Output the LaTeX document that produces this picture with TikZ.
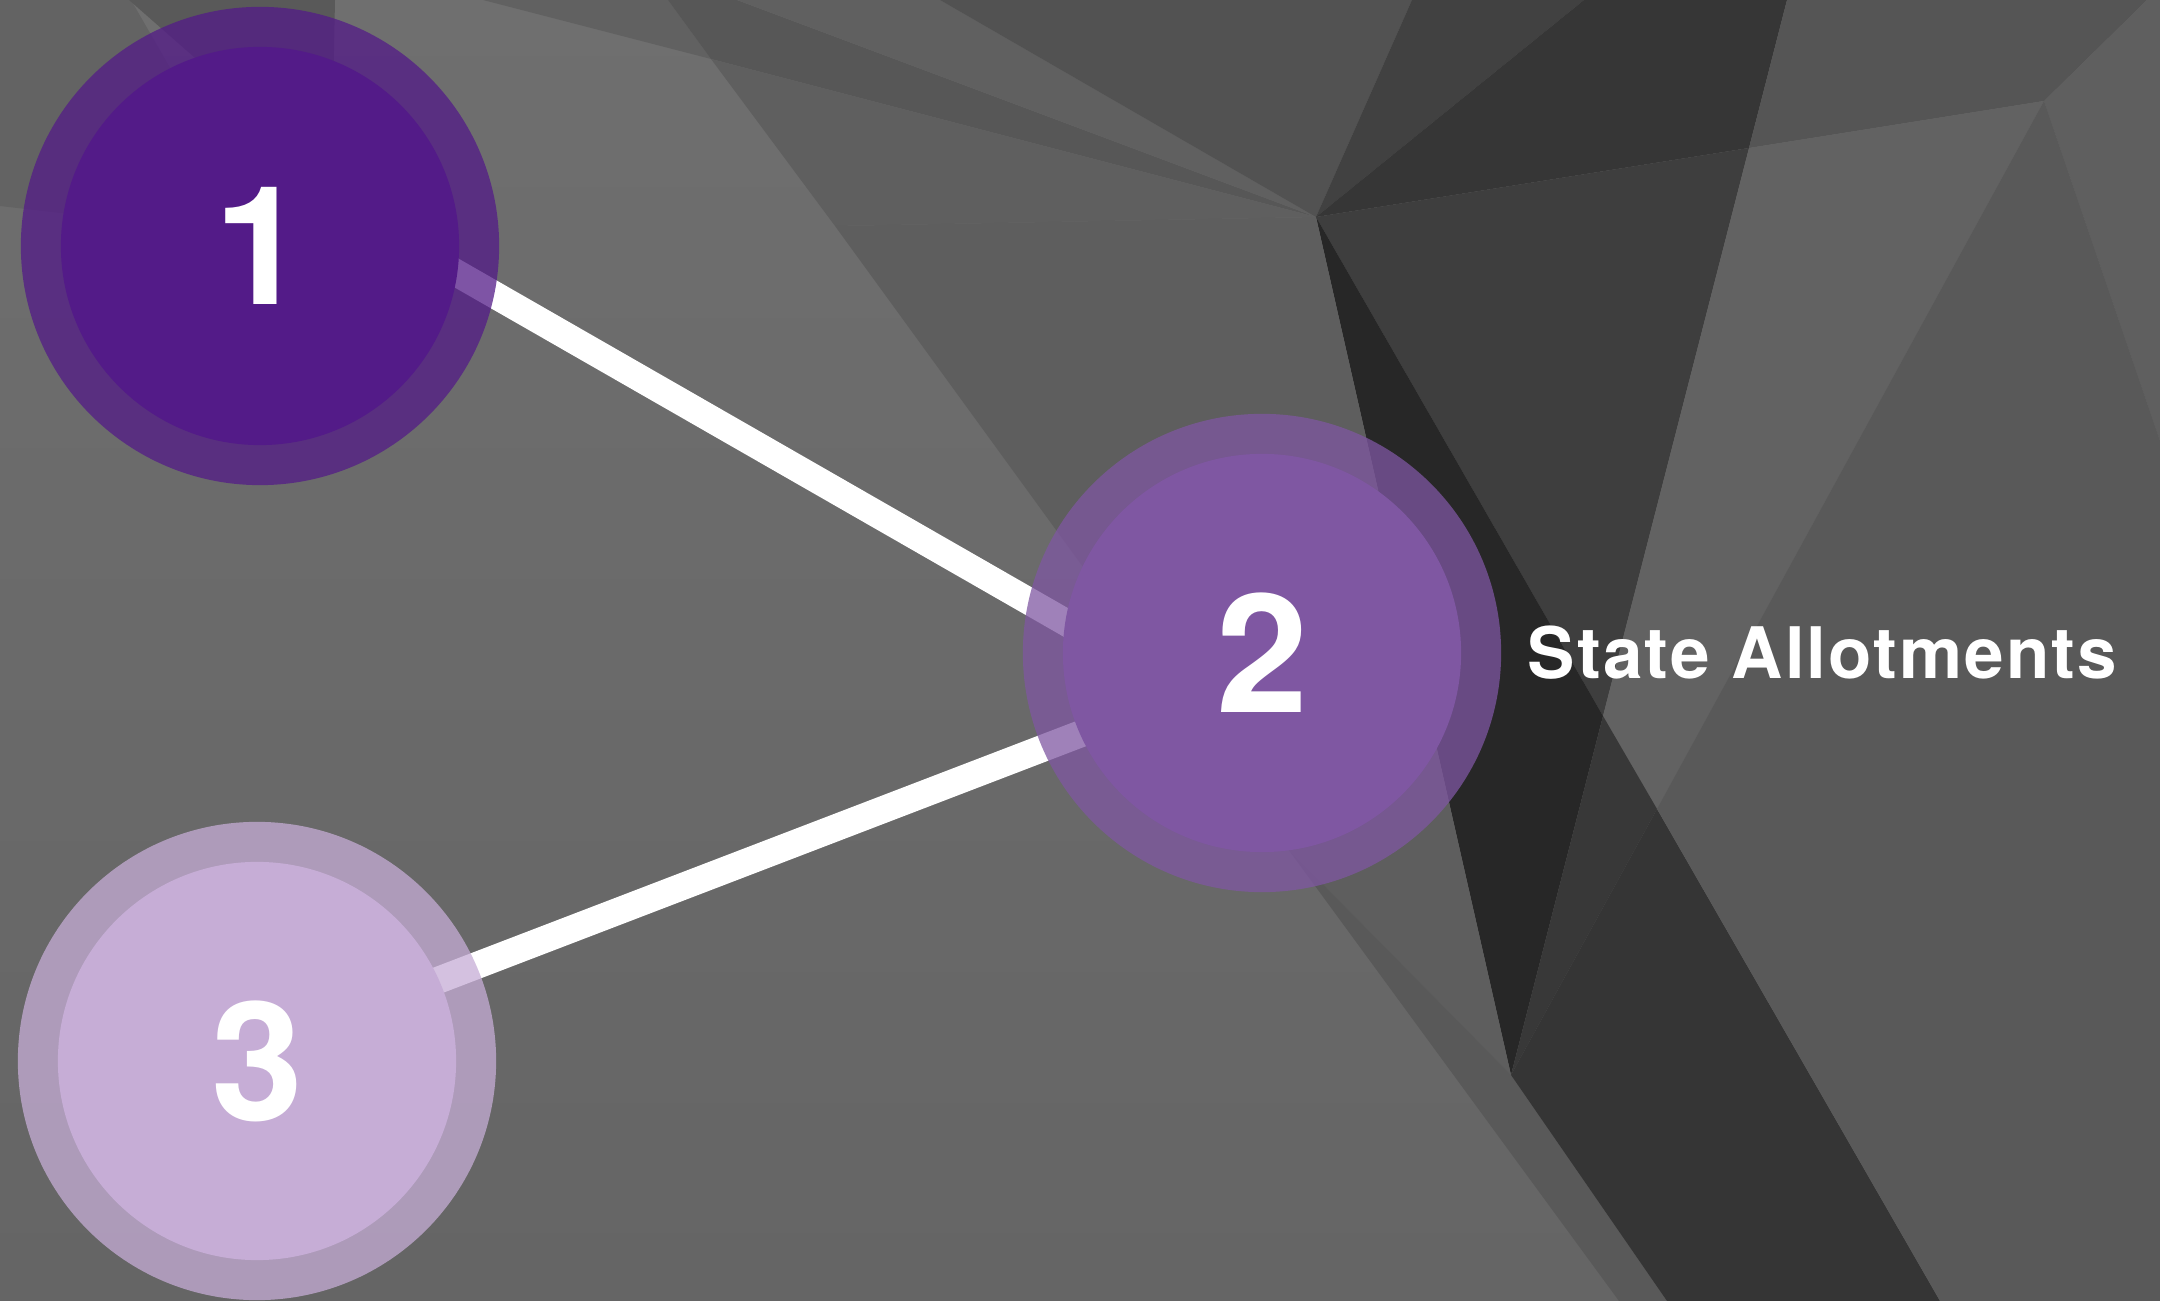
\documentclass[tikz,border=0pt]{standalone}
\usepackage{fontspec}
\setmainfont{TeX Gyre Heros}
\usetikzlibrary{positioning}
\pgfdeclarelayer{bg}
\pgfdeclarelayer{wire}
\pgfdeclarelayer{ring}
\pgfsetlayers{bg,wire,ring,main}

\definecolor{plumA}{HTML}{531B88}
\definecolor{plumB}{HTML}{7F57A2}
\definecolor{plumC}{HTML}{C6ADD6}

\tikzset{
  stop/.style={circle,inner sep=0pt,minimum size=3.98cm,text=white,
    font=\fontsize{47}{47}\selectfont\bfseries},
  halo/.style={fill opacity=0.75},
  wire/.style={white,line width=2.7mm,shorten <=-2mm,shorten >=-2mm},
  caption/.style={inner sep=0pt,text=white,
    font=\fontsize{20.2}{24}\selectfont\bfseries\addfontfeatures{LetterSpace=3}}
}

\begin{document}
\begin{tikzpicture}[x=0.01cm,y=-0.01cm]
\useasboundingbox (0,0) rectangle (2160,1301);
\coordinate (V) at (1316,217);
\coordinate (G) at (711,59);
\coordinate (H) at (835,226);
\coordinate (M) at (1288,849);
\coordinate (L) at (1511,1075);
\coordinate (W) at (1749,148);
\coordinate (X) at (2044,101);
\coordinate (Y) at (2160,441);
\coordinate (K) at (1603,716);
\coordinate (J) at (1657,809);

\begin{pgfonlayer}{bg}
\shade[top color=black!56.5,bottom color=black!60.4] (0,0) rectangle (2160,1301);
\fill[black!61] (0,0) -- (131,0) -- (200,120) -- (260,236) -- (0,206) -- cycle;
\fill[black!65] (129,0) -- (335,0) -- (333,100) -- (243,100) -- cycle;
\fill[black!62] (483,0) -- (668,0) -- (G) -- cycle;
\fill[black!66] (668,0) -- (737,0) -- (V) -- (G) -- cycle;
\fill[black!62.4] (737,0) -- (940,0) -- (V) -- cycle;
\fill[black!67.8] (940,0) -- (1412,0) -- (V) -- cycle;
\fill[black!74.5] (1412,0) -- (1584,0) -- (V) -- cycle;
\fill[black!78.8] (1584,0) -- (1787,0) -- (W) -- (V) -- cycle;
\fill[black!75.7] (V) -- (W) -- (K) -- cycle;
\fill[black!84.7] (V) -- (K) -- (L) -- cycle;
\fill[black!62.7] (G) -- (V) -- (H) -- cycle;
\fill[black!63] (H) -- (V) -- (L) -- (M) -- cycle;
\fill[black!65] (M) -- (L) -- (1667,1301) -- (1619,1301) -- cycle;
\fill[black!66.7] (1787,0) -- (2147,0) -- (X) -- (W) -- cycle;
\fill[black!62.7] (2147,0) -- (2160,0) -- (Y) -- (X) -- cycle;
\fill[black!61.6] (W) -- (X) -- (J) -- (K) -- cycle;
\fill[black!78] (K) -- (J) -- (L) -- cycle;
\fill[black!79.2] (L) -- (J) -- (1940,1301) -- (1667,1301) -- cycle;
\fill[black!65] (X) -- (Y) -- (2160,1301) -- (1940,1301) -- (J) -- cycle;
\end{pgfonlayer}

\node[stop,fill=plumA] (n1) at (260,246) {1};
\node[stop,fill=plumB] (n2) at (1262,653) {2};
\node[stop,fill=plumC] (n3) at (257,1061) {3};
\node[caption,right=6.5mm of n2] (lab) {State Allotments};

\begin{pgfonlayer}{ring}
\foreach \n/\c in {n1/plumA,n2/plumB,n3/plumC} {
  \fill[\c,halo] (\n.center) circle[radius=2.39cm];
}
\end{pgfonlayer}

\begin{pgfonlayer}{wire}
\draw[wire] (n1.-8.9) -- (n2.171.2);
\draw[wire] (n3.24.5) -- (n2.204.8);
\end{pgfonlayer}
\end{tikzpicture}
\end{document}
